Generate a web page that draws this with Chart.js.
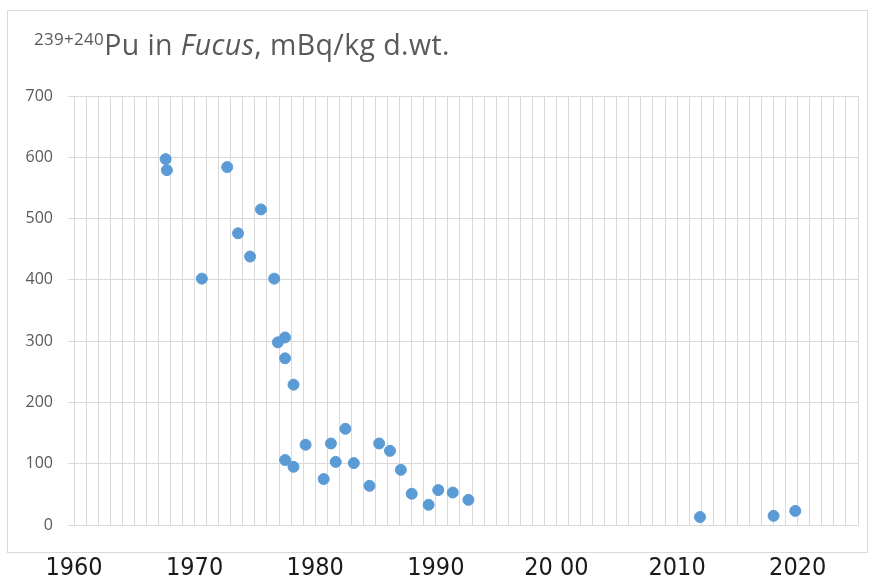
<!DOCTYPE html>
<html>
<head>
<meta charset="utf-8">
<title>Pu in Fucus</title>
<script src="https://cdn.jsdelivr.net/npm/chart.js@4.4.1/dist/chart.umd.min.js"></script>
<style>
    body { margin: 0; background: #fff; }
    #wrap { position: relative; width: 873px; height: 583px; }
    #frame {
        position: absolute; left: 7px; top: 10px; width: 861px; height: 543px;
        border: 1px solid #d9d9d9; box-sizing: border-box;
    }
    #title {
        position: absolute; left: 34px; top: 30px;
        font-family: "Open Sans", sans-serif; font-size: 28.5px; color: #595959;
        white-space: nowrap; line-height: 1; letter-spacing: 0.4px;
    }
    #title sup { font-size: 17px; vertical-align: 10px; letter-spacing: 0.3px; }
    canvas { position: absolute; left: 0; top: 0; }
</style>
</head>
<body>
<div id="wrap">
    <div id="frame"></div>
    <canvas id="chartPu" width="873" height="583"></canvas>
    <div id="title"><sup>239+240</sup>Pu in <i>Fucus</i>, mBq/kg d.wt.</div>
</div>
<script>
// Dados (ano aproximado, mBq/kg peso seco)
const years = [1967.6, 1967.7, 1970.6, 1972.7, 1973.6, 1974.6, 1975.5, 1976.6,
    1976.9, 1977.5, 1977.5, 1978.2, 1977.5, 1978.2, 1979.2, 1980.7, 1981.3,
    1981.7, 1982.5, 1983.2, 1984.5, 1985.3, 1986.2, 1987.1, 1988.0, 1989.4,
    1990.2, 1991.4, 1992.7, 2011.9, 2018.0, 2019.8];
const values = [597, 579, 402, 584, 476, 438, 515, 402,
    298, 306, 272, 229, 106, 95, 131, 75, 133,
    103, 157, 101, 64, 133, 121, 90, 51, 33,
    57, 53, 41, 13, 15, 23];

// Rótulos do eixo X (como aparecem na figura)
const xTickLabels = {1960: '1960', 1970: '1970', 1980: '1980', 1990: '1990',
    2000: '20 00', 2010: '2010', 2020: '2020'};
const yTicks = [0, 100, 200, 300, 400, 500, 600, 700];

const gridColor = '#d9d9d9';

new Chart(document.getElementById('chartPu'), {
    type: 'scatter',
    data: {
        datasets: [{
            data: years.map((y, i) => ({ x: y, y: values[i] })),
            backgroundColor: '#5b9bd5',
            borderColor: '#5b9bd5',
            pointRadius: 5.5,
            pointHoverRadius: 5.5
        }]
    },
    options: {
        responsive: false,
        animation: false,
        layout: { padding: { left: 0, right: 15, top: 96, bottom: 0 } },
        plugins: {
            legend: { display: false },
            tooltip: { enabled: false }
        },
        scales: {
            x: {
                type: 'linear',
                min: 1960,
                max: 2025,
                afterFit: function(scale) {
                    scale.height = 58;
                    // sem margem extra para os rótulos
                    scale.paddingLeft = 0;
                    scale.paddingRight = 0;
                },
                grid: { color: gridColor, drawTicks: false },
                border: { color: gridColor },
                ticks: {
                    stepSize: 1,
                    autoSkip: false,
                    maxRotation: 0,
                    maxTicksLimit: 1000,
                    padding: 28,
                    color: '#1a1a1a',
                    font: { family: '"Liberation Sans Narrow", "DejaVu Sans Condensed", sans-serif', size: 25 },
                    callback: function(value) {
                        return xTickLabels[value] || '';
                    }
                }
            },
            y: {
                min: 0,
                max: 700,
                afterFit: function(scale) { scale.width = 74; },
                afterBuildTicks: function(scale) {
                    scale.ticks = yTicks.map(v => ({ value: v }));
                },
                grid: { color: gridColor, tickLength: 6 },
                border: { color: gridColor },
                ticks: {
                    padding: 15,
                    color: '#595959',
                    font: { family: '"Open Sans", sans-serif', size: 16 }
                }
            }
        }
    }
});
</script>
</body>
</html>
